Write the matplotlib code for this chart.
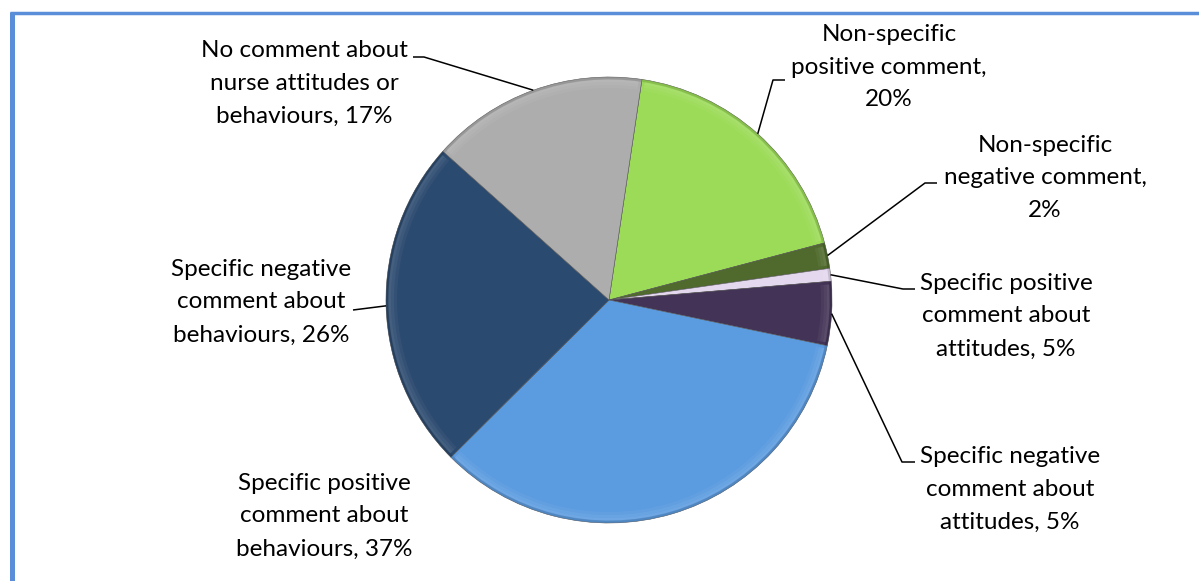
import numpy as np
import matplotlib
matplotlib.use("Agg")
import matplotlib.pyplot as plt
from matplotlib.patches import Wedge
from matplotlib.colors import to_rgb

# Share of comments per category (the white sliver is unlabelled in its own right)
categories = [
    "Non-specific positive comment",
    "Non-specific negative comment",
    "Specific positive comment about attitudes",
    "Specific negative comment about attitudes",
    "Specific positive comment about behaviours",
    "Specific negative comment about behaviours",
    "No comment about nurse attitudes or behaviours",
]
values = [20, 2, 1, 5, 37, 26, 17]
label_texts = [
    "Non-specific\npositive comment,\n20%",
    "Non-specific\nnegative comment,\n2%",
    "Specific positive\ncomment about\nattitudes, 5%",
    "Specific negative\ncomment about\nattitudes, 5%",
    "Specific positive\ncomment about\nbehaviours, 37%",
    "Specific negative\ncomment about\nbehaviours, 26%",
    "No comment about\nnurse attitudes or\nbehaviours, 17%",
]
colors = ["#9BDB57", "#4F6A2C", "#E4D8EE", "#433356", "#5B9BE0", "#2B4A6F", "#ADADAD"]

W, H = 1199, 581
fig = plt.figure(figsize=(W / 100, H / 100), dpi=100)
ax = fig.add_axes([0, 0, 1, 1])

cx, cy, R = 609, H - 300, 223
wedges, _ = ax.pie(values, colors=colors, startangle=81.5, counterclock=False,
                   center=(cx, cy), radius=R,
                   wedgeprops=dict(edgecolor="#555555", linewidth=0.4))

# soft bevel: lighter band near the rim, darker hairline at the very edge
def shade(c, f):
    c = np.array(to_rgb(c))
    return tuple(np.clip(c + (1 - c) * f, 0, 1)) if f > 0 else tuple(c * (1 + f))

for w, c in zip(wedges, colors):
    t1, t2 = w.theta1, w.theta2
    pad = min(0.8, (t2 - t1) * 0.15)
    for k, a in enumerate([0.22, 0.15, 0.08]):
        ax.add_patch(Wedge((cx, cy), R - 2 - 3 * k, t1 + pad, t2 - pad, width=3,
                           facecolor=shade(c, 0.55), edgecolor="none", alpha=a))
    ax.add_patch(Wedge((cx, cy), R, t1, t2, width=2.5,
                       facecolor=shade(c, -0.25), edgecolor="none", alpha=0.5))

# label layout: text centre (px) and elbow for the leader line (None = no leader)
text_pos = [(889, 67), (1045, 178), (1006, 316), (1010, 489),
            (324, 516), (261, 302), (304, 83)]
elbows = [((773, 80), (785, 80)), ((925, 183), (937, 183)),
          ((903, 289), (915, 289)), ((902, 462), (915, 462)),
          None, (None, (353, 310)), ((424, 57), (413, 57))]

for w, txt, (tx, ty), elb in zip(wedges, label_texts, text_pos, elbows):
    ax.text(tx, H - ty, txt, ha="center", va="center", fontsize=17.5,
            family="Lato", color="#000000", linespacing=1.7)
    if elb is None:
        continue
    mid = np.deg2rad((w.theta1 + w.theta2) / 2)
    pts = [(cx + R * np.cos(mid), cy + R * np.sin(mid))]
    for p in elb:
        if p is not None:
            pts.append((p[0], H - p[1]))
    xs, ys = zip(*pts)
    ax.plot(xs, ys, color="black", lw=1.1, solid_capstyle="butt")

# chart frame
ax.plot([12.3, 12.3], [-10, H - 12], color="#5A8ED8", lw=3.6, solid_capstyle="butt")
ax.plot([10, W + 10], [H - 13.3, H - 13.3], color="#5A8ED8", lw=2.5, solid_capstyle="butt")

ax.set_xlim(0, W)
ax.set_ylim(0, H)
ax.set_aspect("equal")
ax.axis("off")
fig.savefig("out.png", dpi=100)
